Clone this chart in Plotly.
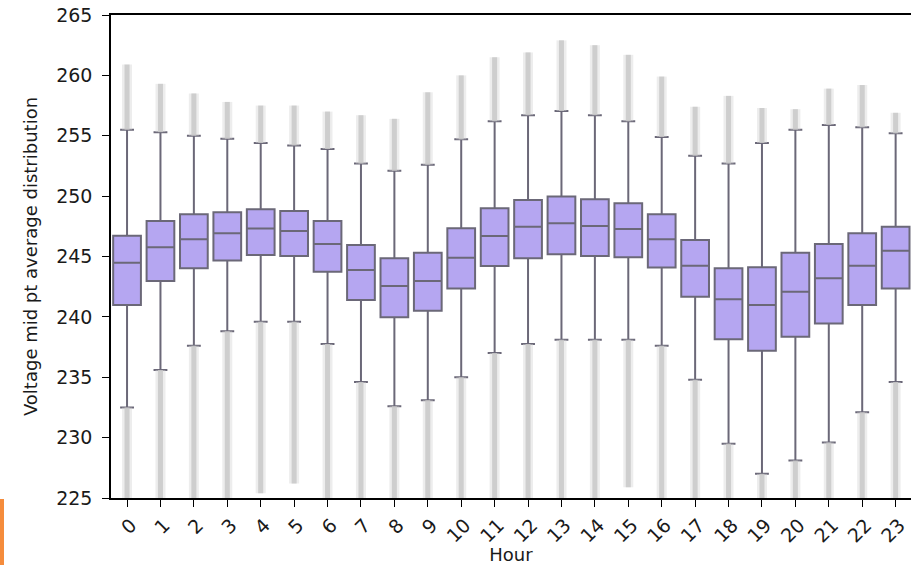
import plotly.graph_objects as go

hours = list(range(24))
tick_text = [str(h) for h in hours]

q1 = [240.98, 242.97, 244.02, 244.66, 245.12, 245.04, 243.74, 241.40, 239.96, 240.51, 242.36, 244.21,
      244.85, 245.18, 245.04, 244.93, 244.08, 241.67, 238.14, 237.20, 238.36, 239.46, 240.98, 242.36]
median = [244.49, 245.76, 246.42, 246.92, 247.31, 247.11, 246.03, 243.88, 242.56, 242.97, 244.90, 246.70,
          247.47, 247.75, 247.53, 247.28, 246.42, 244.24, 241.46, 240.98, 242.09, 243.19, 244.24, 245.48]
q3 = [246.72, 247.94, 248.49, 248.66, 248.91, 248.77, 247.94, 245.95, 244.85, 245.32, 247.33, 248.99,
      249.68, 249.96, 249.74, 249.40, 248.49, 246.37, 244.02, 244.10, 245.32, 246.03, 246.92, 247.47]
upper_whisker = [255.5, 255.3, 255.0, 254.75, 254.4, 254.2, 253.9, 252.7, 252.1, 252.6, 254.7, 256.2,
                 256.7, 257.05, 256.7, 256.2, 254.9, 253.35, 252.7, 254.4, 255.5, 255.9, 255.7, 255.2]
lower_whisker = [232.5, 235.6, 237.6, 238.8, 239.6, 239.6, 237.75, 234.6, 232.6, 233.1, 235.0, 237.0,
                 237.75, 238.1, 238.1, 238.1, 237.6, 234.8, 229.5, 227.0, 228.1, 229.6, 232.1, 234.6]
flier_max = [260.9, 259.3, 258.5, 257.8, 257.5, 257.5, 257.0, 256.7, 256.4, 258.6, 260.0, 261.5,
             261.9, 262.9, 262.5, 261.7, 259.9, 257.4, 258.3, 257.3, 257.2, 258.9, 259.2, 256.9]
flier_min = [224.0, 224.0, 224.0, 224.0, 225.4, 226.2, 224.0, 224.0, 224.0, 224.0, 224.0, 224.0,
             224.0, 224.0, 224.0, 225.9, 224.0, 224.0, 224.0, 224.0, 224.0, 224.0, 224.0, 224.0]

y_ticks = [225, 230, 235, 240, 245, 250, 255, 260, 265]

fx, fy = [], []
for h, uw, fmax, lw, fmin in zip(hours, upper_whisker, flier_max, lower_whisker, flier_min):
    fx += [h, h, None, h, h, None]
    fy += [uw, fmax, None, fmin, lw, None]

fig = go.Figure()
# faint halo of the flier columns
fig.add_trace(go.Scatter(
    x=fx, y=fy, mode="lines",
    line=dict(color="rgba(215,215,215,0.45)", width=10),
    hoverinfo="skip", showlegend=False,
))
fig.add_trace(go.Scatter(
    x=fx, y=fy, mode="lines",
    line=dict(color="rgba(200,200,200,0.85)", width=5),
    hoverinfo="skip", showlegend=False,
))
fig.add_trace(go.Box(
    x=hours, q1=q1, median=median, q3=q3,
    lowerfence=lower_whisker, upperfence=upper_whisker,
    boxpoints=False, width=0.83, whiskerwidth=0.5,
    fillcolor="rgb(181,166,241)",
    line=dict(color="#6b6878", width=2),
    showlegend=False,
))

font_family = "DejaVu Sans"
fig.update_layout(
    width=911, height=565, autosize=False,
    margin=dict(l=111, r=0, t=15, b=67),
    paper_bgcolor="white", plot_bgcolor="white",
    font=dict(family=font_family, color="#1a1a1a"),
    xaxis=dict(
        range=[-0.48, 23.46],
        tickmode="array", tickvals=hours, ticktext=tick_text,
        tickangle=-45, ticks="outside", ticklen=7, tickcolor="black",
        tickfont=dict(size=19), ticklabelshift=4,
        showline=True, linecolor="black", linewidth=1.5, mirror=True,
        showgrid=False, zeroline=False,
        title=dict(text="Hour", font=dict(size=18), standoff=6),
    ),
    yaxis=dict(
        range=[225, 265],
        tickmode="array", tickvals=y_ticks,
        ticks="outside", ticklen=7, tickcolor="black",
        tickfont=dict(size=19), ticklabelstandoff=6,
        showline=True, linecolor="black", linewidth=1.5,
        showgrid=False, zeroline=False,
        title=dict(text="Voltage mid pt average distribution", font=dict(size=18), standoff=14),
    ),
    shapes=[dict(
        type="rect", xref="paper", yref="paper",
        x0=-0.13875, x1=-0.13375, y0=-0.1387, y1=-0.0021,
        fillcolor="#f58c3c", line=dict(width=0), layer="above",
    )],
)

fig.write_html("out.html")
